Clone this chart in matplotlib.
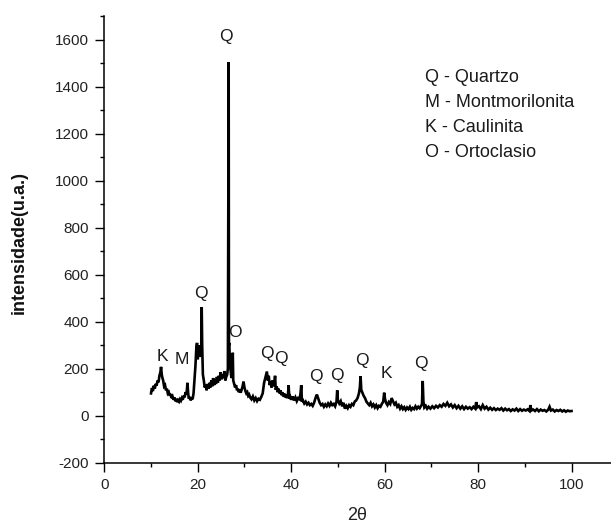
import matplotlib
matplotlib.use("Agg")
import matplotlib.pyplot as plt
from matplotlib.ticker import MultipleLocator

plt.rcParams['font.family'] = ['Liberation Sans', 'DejaVu Sans']
plt.rcParams['axes.unicode_minus'] = False

# ---- data (2theta, intensity) ----
x_seg1 = [10.0, 10.2, 10.4, 10.6, 10.8, 11.0, 11.2, 11.4, 11.6, 11.8, 12.0, 12.15, 12.3, 12.45, 12.6, 12.8,
          13.0, 13.2, 13.4, 13.6, 13.8, 14.0, 14.2, 14.4, 14.6, 14.8, 15.0, 15.2, 15.4, 15.6, 15.8, 16.0,
          16.2, 16.4, 16.6, 16.8, 17.0, 17.2, 17.4, 17.6, 17.8, 17.95, 18.1, 18.3, 18.5, 18.7, 18.9, 19.1,
          19.3, 19.5, 19.7, 19.85, 20.0, 20.15, 20.3, 20.45, 20.6, 20.75, 20.85, 20.95, 21.1, 21.3, 21.5,
          21.7, 21.9]
y_seg1 = [95, 118, 105, 128, 115, 135, 128, 150, 142, 170, 185, 208, 175, 160, 150, 125,
          130, 108, 115, 95, 100, 85, 92, 75, 82, 68, 78, 62, 72, 58, 66, 60,
          70, 64, 75, 68, 85, 78, 100, 90, 140, 95, 72, 80, 65, 78, 70, 95,
          150, 210, 290, 310, 240, 280, 300, 250, 270, 255, 462, 300, 175, 150, 120,
          130, 108]

x_seg2 = [22.1, 22.3, 22.5, 22.7, 22.9, 23.1, 23.3, 23.5, 23.7, 23.9, 24.1, 24.3, 24.5, 24.7, 24.9,
          25.1, 25.3, 25.5, 25.7, 25.9, 26.1, 26.3, 26.45, 26.55, 26.62, 26.68, 26.75, 26.85]
y_seg2 = [135, 115, 140, 120, 150, 125, 160, 130, 155, 135, 165, 140, 170, 150, 185,
          155, 175, 160, 190, 150, 165, 175, 200, 980, 1505, 300, 310, 250]

x_seg3 = [27.0, 27.2, 27.35, 27.5, 27.6, 27.8, 28.0, 28.2, 28.4, 28.6, 28.8, 29.0, 29.2, 29.4, 29.6,
          29.8, 30.0, 30.2, 30.4, 30.6, 30.8, 31.0]
y_seg3 = [200, 160, 180, 268, 150, 135, 120, 130, 108, 115, 100, 110, 98, 112, 125,
          145, 120, 105, 95, 100, 85, 90]

x_seg4 = [31.2, 31.5, 31.8, 32.1, 32.4, 32.7, 33.0, 33.3, 33.6, 33.9, 34.2, 34.5, 34.8, 35.0, 35.2,
          35.4, 35.6, 35.8, 36.0, 36.2, 36.4, 36.55, 36.7, 36.9, 37.1, 37.3, 37.5, 37.7, 37.9, 38.1,
          38.3, 38.5, 38.7, 38.9, 39.1, 39.3, 39.45, 39.6, 39.8, 40.0, 40.3, 40.6, 40.9, 41.2, 41.5,
          41.8, 42.0, 42.15, 42.3, 42.5, 42.8, 43.1, 43.4, 43.7, 44.0]
y_seg4 = [78, 70, 82, 65, 75, 62, 72, 68, 80, 95, 140, 165, 188, 150, 170,
          130, 145, 120, 150, 125, 140, 170, 110, 125, 100, 115, 95, 108, 88, 100,
          82, 95, 78, 90, 75, 85, 130, 72, 80, 68, 82, 65, 78, 62, 75,
          70, 95, 130, 60, 65, 52, 60, 48, 55, 45]

x_seg5 = [44.3, 44.6, 44.9, 45.2, 45.5, 45.8, 46.1, 46.4, 46.7, 47.0, 47.3, 47.6, 47.9, 48.2, 48.5,
          48.8, 49.1, 49.4, 49.7, 49.85, 50.0, 50.3, 50.6, 50.9, 51.2, 51.5, 51.8, 52.1, 52.4, 52.7,
          53.0, 53.3, 53.6, 53.9, 54.2, 54.5, 54.7, 54.85, 55.0, 55.2, 55.5, 55.8, 56.1, 56.4]
y_seg5 = [50, 42, 55, 75, 90, 72, 55, 45, 50, 38, 48, 40, 52, 42, 55,
          45, 50, 40, 60, 108, 65, 52, 62, 40, 55, 30, 42, 32, 45, 38,
          50, 45, 60, 65, 75, 95, 120, 168, 110, 100, 85, 75, 60, 52]

x_seg6 = [56.7, 57.0, 57.3, 57.6, 57.9, 58.2, 58.5, 58.8, 59.1, 59.4, 59.7, 59.9, 60.1, 60.3, 60.6,
          60.9, 61.2, 61.5, 61.8, 62.1, 62.4, 62.7, 63.0, 63.3, 63.6, 63.9, 64.2, 64.5, 64.8, 65.1,
          65.4, 65.7, 66.0, 66.3, 66.6, 66.9, 67.2, 67.5, 67.8, 68.0, 68.15, 68.3, 68.5, 68.8, 69.1]
y_seg6 = [45, 55, 40, 48, 35, 45, 32, 42, 38, 50, 60, 98, 70, 55, 45,
          58, 50, 75, 62, 48, 55, 38, 45, 30, 40, 28, 36, 25, 35, 28,
          38, 25, 33, 28, 40, 30, 38, 32, 42, 50, 148, 60, 35, 42, 30]

x_seg7 = [69.4, 69.8, 70.2, 70.6, 71.0, 71.4, 71.8, 72.2, 72.6, 73.0, 73.4, 73.8, 74.2, 74.6, 75.0,
          75.4, 75.8, 76.2, 76.6, 77.0, 77.4, 77.8, 78.2, 78.6, 79.0, 79.4, 79.6, 79.8, 80.2, 80.6,
          81.0, 81.4, 81.8, 82.2, 82.6, 83.0, 83.4, 83.8, 84.2, 84.6, 85.0, 85.4, 85.8, 86.2, 86.6,
          87.0, 87.4, 87.8, 88.2, 88.6, 89.0, 89.4, 89.8, 90.2, 90.6, 91.0, 91.2, 91.4, 91.8, 92.2,
          92.6, 93.0, 93.4, 93.8, 94.2, 94.6, 95.0, 95.3, 95.6, 96.0, 96.4, 96.8, 97.2, 97.6, 98.0,
          98.4, 98.8, 99.2, 99.6, 100.0]
y_seg7 = [38, 30, 40, 32, 42, 35, 45, 38, 50, 42, 55, 40, 48, 35, 45,
          32, 42, 30, 40, 28, 38, 30, 36, 28, 38, 30, 58, 35, 40, 28,
          45, 30, 38, 26, 34, 25, 32, 24, 30, 25, 32, 22, 30, 23, 28,
          20, 27, 22, 30, 20, 28, 21, 26, 22, 27, 20, 45, 22, 26, 20,
          28, 19, 26, 21, 24, 18, 25, 38, 22, 26, 18, 24, 20, 25, 18,
          23, 17, 22, 19, 20]

two_theta = x_seg1 + x_seg2 + x_seg3 + x_seg4 + x_seg5 + x_seg6 + x_seg7
intensity = y_seg1 + y_seg2 + y_seg3 + y_seg4 + y_seg5 + y_seg6 + y_seg7

# peak labels: (label, 2theta, intensity position)
peak_labels = ["Q", "Q", "O", "K", "M", "Q", "Q", "Q", "Q", "Q", "K", "Q"]
peak_x = [26.1, 20.6, 27.9, 12.5, 16.6, 34.9, 37.9, 45.3, 49.7, 55.2, 60.3, 67.8]
peak_y = [1612, 520, 355, 252, 240, 266, 244, 165, 172, 234, 178, 224]

legend_lines = ["Q - Quartzo", "M - Montmorilonita", "K - Caulinita", "O - Ortoclasio"]
legend_y = [1441, 1335, 1226, 1118]

xticks = [0, 20, 40, 60, 80, 100]
yticks = [-200, 0, 200, 400, 600, 800, 1000, 1200, 1400, 1600]

fig = plt.figure(figsize=(6.11, 5.24), dpi=100)
ax = fig.add_axes([0.1707, 0.117, 0.8293, 0.852])

ax.plot(two_theta, intensity, color='black', lw=1.9, solid_joinstyle='miter')

for lab, px, py in zip(peak_labels, peak_x, peak_y):
    ax.text(px, py, lab, fontsize=12.5, ha='center', va='center', color='#1a1a1a')

for txt, ly in zip(legend_lines, legend_y):
    ax.text(68.6, ly, txt, fontsize=13, ha='left', va='center', color='#1a1a1a')

ax.set_xlim(0, 108.45)
ax.set_ylim(-200, 1700)
ax.set_xticks(xticks)
ax.set_yticks(yticks)
ax.xaxis.set_minor_locator(MultipleLocator(10))
ax.yaxis.set_minor_locator(MultipleLocator(100))

for s in ['top', 'right']:
    ax.spines[s].set_visible(False)
for s in ['left', 'bottom']:
    ax.spines[s].set_linewidth(1.1)

ax.tick_params(which='major', direction='out', length=6.5, width=1.0, labelsize=11,
               labelcolor='#222222', pad=4.5)
ax.tick_params(which='minor', direction='out', length=3, width=1.0)

fig.text(19 / 611, 1 - 242 / 524, "intensidade(u.a.)", rotation=90, fontsize=13,
         fontweight='bold', ha='center', va='center', color='#111111')
fig.text(357 / 611, 1 - 516 / 524, "2θ", fontsize=13, ha='center', va='center', color='#222222')

fig.savefig("out.png", dpi=100)
